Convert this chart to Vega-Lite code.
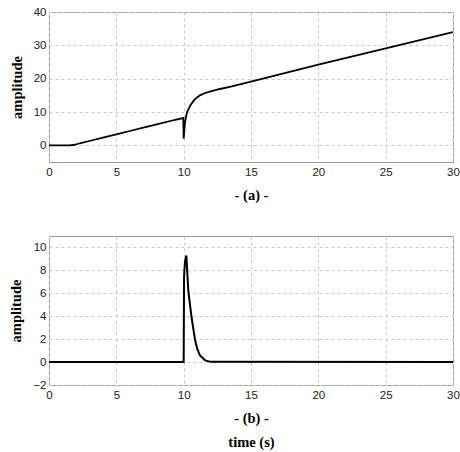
{
  "$schema": "https://vega.github.io/schema/vega-lite/v6.json",
  "background": "white",
  "padding": {"left": 8, "top": 5, "right": 0, "bottom": 0},
  "spacing": 32,
  "datasets": {
    "a": [
      {"t": 0, "v": 0}, {"t": 1.5, "v": 0}, {"t": 1.8, "v": 0.1}, {"t": 2.1, "v": 0.4},
      {"t": 2.5, "v": 0.8}, {"t": 3, "v": 1.3}, {"t": 4, "v": 2.3}, {"t": 5, "v": 3.3},
      {"t": 6, "v": 4.3}, {"t": 7, "v": 5.3}, {"t": 8, "v": 6.3}, {"t": 9, "v": 7.3},
      {"t": 9.97, "v": 8.2}, {"t": 10.0, "v": 2.0}, {"t": 10.1, "v": 7.0}, {"t": 10.25, "v": 10.0},
      {"t": 10.5, "v": 12.0}, {"t": 10.8, "v": 13.7}, {"t": 11.2, "v": 15.0}, {"t": 11.6, "v": 15.7},
      {"t": 12, "v": 16.2}, {"t": 12.7, "v": 16.9}, {"t": 13.5, "v": 17.6}, {"t": 15, "v": 19.1},
      {"t": 20, "v": 24.2}, {"t": 25, "v": 29.1}, {"t": 30, "v": 34.0}
    ],
    "b": [
      {"t": 0, "v": 0}, {"t": 10.0, "v": 0}, {"t": 10.03, "v": 7.5}, {"t": 10.1, "v": 8.8},
      {"t": 10.2, "v": 9.3}, {"t": 10.34, "v": 6.3}, {"t": 10.47, "v": 5.0}, {"t": 10.6, "v": 3.8},
      {"t": 10.85, "v": 1.9}, {"t": 11.0, "v": 1.2}, {"t": 11.2, "v": 0.6}, {"t": 11.6, "v": 0.15},
      {"t": 12, "v": 0.02}, {"t": 30, "v": 0}
    ]
  },
  "config": {
    "view": {"stroke": "#999999", "strokeWidth": 1},
    "axis": {
      "grid": true,
      "gridColor": "#c8c8c8",
      "gridDash": [3, 3],
      "gridWidth": 1,
      "domain": false,
      "ticks": false,
      "labelFlush": false,
      "labelFont": "Liberation Sans",
      "labelFontSize": 11.5,
      "labelColor": "#222222",
      "titleFont": "Liberation Serif",
      "titleFontWeight": "bold",
      "titleFontSize": 14.5,
      "titleColor": "#000000"
    }
  },
  "vconcat": [
    {
      "width": 404,
      "height": 150,
      "data": {"name": "a"},
      "mark": {"type": "line", "color": "#000000", "strokeWidth": 1.8, "clip": true},
      "encoding": {
        "x": {"field": "t", "type": "quantitative", "scale": {"domain": [0, 30], "nice": false},
              "axis": {"values": [0, 5, 10, 15, 20, 25, 30], "title": "- (a) -", "labelPadding": 4, "titlePadding": 11}},
        "y": {"field": "v", "type": "quantitative", "scale": {"domain": [-5, 40], "nice": false, "zero": false},
              "axis": {"values": [0, 10, 20, 30, 40], "title": "amplitude", "labelPadding": 3, "titlePadding": 9}}
      }
    },
    {
      "width": 404,
      "height": 149,
      "data": {"name": "b"},
      "mark": {"type": "line", "color": "#000000", "strokeWidth": 2, "clip": true},
      "encoding": {
        "x": {"field": "t", "type": "quantitative", "scale": {"domain": [0, 30], "nice": false},
              "axis": {"values": [0, 5, 10, 15, 20, 25, 30], "title": ["- (b) -", "time (s)"], "titleLineHeight": 24, "labelPadding": 4, "titlePadding": 11}},
        "y": {"field": "v", "type": "quantitative", "scale": {"domain": [-2, 11], "nice": false, "zero": false},
              "axis": {"values": [-2, 0, 2, 4, 6, 8, 10], "title": "amplitude", "labelPadding": 3, "titlePadding": 9}}
      }
    }
  ]
}
